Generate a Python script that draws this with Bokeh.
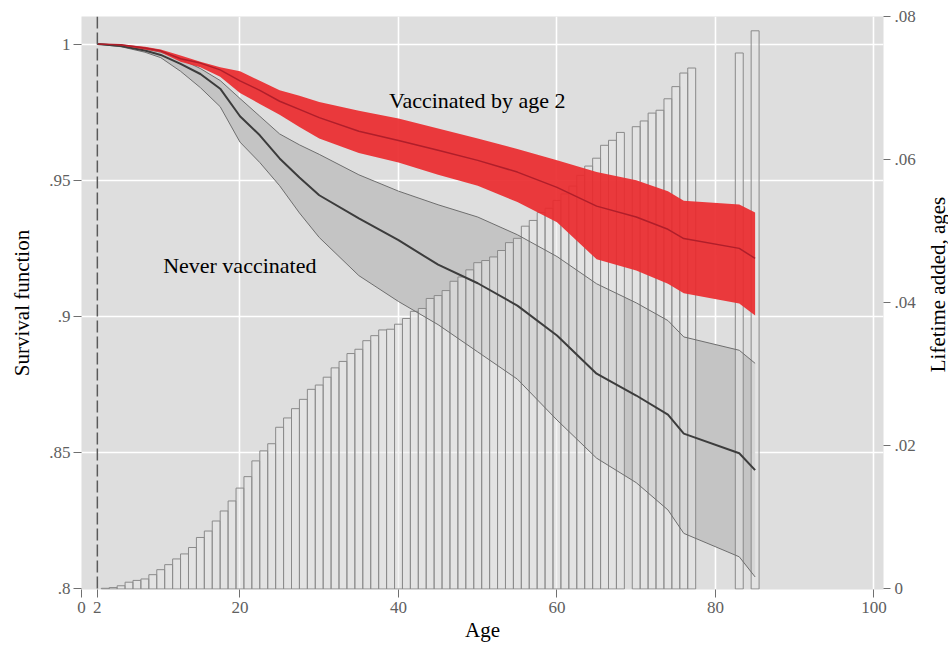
import math
from bokeh.plotting import figure
from bokeh.layouts import row
from bokeh.models import (Range1d, LinearAxis, FixedTicker, CustomJSTickFormatter,
                          Span, Label, ColumnDataSource)
from bokeh.embed import file_html
from bokeh.resources import INLINE

# ---------------- data ----------------
curve_ages = [2, 5, 8, 10, 12.5, 15, 17.5, 20, 22.5, 25, 27.5, 30, 35, 40, 45, 50,
              55, 60, 65, 70, 74, 76, 83, 85]

never_mid = [1.0, 0.9993, 0.9976, 0.996, 0.9927, 0.989, 0.9836, 0.9735, 0.9665,
             0.958, 0.951, 0.9445, 0.936, 0.928, 0.919, 0.9122, 0.904, 0.893, 0.879,
             0.871, 0.864, 0.857, 0.8498, 0.8436]
never_hi = [1.0, 0.9996, 0.9982, 0.997, 0.9945, 0.991, 0.9866, 0.980, 0.9735,
            0.967, 0.963, 0.9595, 0.952, 0.946, 0.941, 0.9365, 0.930, 0.922, 0.912,
            0.905, 0.8985, 0.8925, 0.8876, 0.8828]
never_lo = [1.0, 0.999, 0.997, 0.995, 0.990, 0.984, 0.977, 0.964, 0.9565,
            0.948, 0.938, 0.929, 0.915, 0.9055, 0.897, 0.887, 0.877, 0.862, 0.848,
            0.839, 0.829, 0.8204, 0.8118, 0.8044]

vacc_mid = [1.0, 0.9997, 0.9985, 0.9975, 0.9946, 0.993, 0.9905, 0.9865, 0.983,
            0.979, 0.976, 0.973, 0.968, 0.9646, 0.961, 0.9573, 0.953, 0.9474, 0.9405,
            0.9365, 0.932, 0.9286, 0.925, 0.9213]
vacc_hi = [1.0, 0.9998, 0.999, 0.998, 0.9958, 0.9935, 0.9915, 0.990, 0.9865,
           0.983, 0.981, 0.9787, 0.9755, 0.9727, 0.969, 0.9653, 0.9615, 0.9573, 0.953,
           0.950, 0.946, 0.9425, 0.9411, 0.9382]
vacc_lo = [1.0, 0.9995, 0.998, 0.997, 0.9935, 0.9915, 0.988, 0.982, 0.978,
           0.974, 0.9695, 0.9653, 0.960, 0.9565, 0.952, 0.948, 0.942, 0.9346, 0.921,
           0.9169, 0.912, 0.9085, 0.9048, 0.9004]

bar_ages = [3, 4, 5, 6, 7, 8, 9, 10, 11, 12, 13, 14, 15, 16, 17, 18, 19, 20,
            21, 22, 23, 24, 25, 26, 27, 28, 29, 30, 31, 32, 33, 34, 35, 36, 37,
            38, 39, 40, 41, 42, 43, 44, 45, 46, 47, 48, 49, 50, 51, 52, 53, 54,
            55, 56, 57, 58, 59, 60, 61, 62, 63, 64, 65, 66, 67, 68, 70, 71, 72,
            73, 74, 75, 76, 77, 83, 85]
bar_values = [0.0001, 0.0002, 0.00045, 0.00095, 0.0012, 0.0014, 0.0020, 0.0027,
              0.0034, 0.0042, 0.0049, 0.0058, 0.0072, 0.0081, 0.0095, 0.0109,
              0.0123, 0.0141, 0.0157, 0.0179, 0.0193, 0.0203, 0.0226, 0.0239,
              0.0252, 0.0265, 0.0279, 0.0285, 0.0296, 0.0309, 0.0318, 0.0329,
              0.0335, 0.0347, 0.0354, 0.0362, 0.0363, 0.0370, 0.0378, 0.0388,
              0.0392, 0.0406, 0.0410, 0.0417, 0.0430, 0.0436, 0.0446, 0.0456,
              0.0459, 0.0464, 0.0473, 0.0484, 0.0490, 0.0507, 0.0515, 0.0526,
              0.0532, 0.0543, 0.0552, 0.0563, 0.0578, 0.0591, 0.0602, 0.0620,
              0.0627, 0.0638, 0.0646, 0.0654, 0.0665, 0.0669, 0.0685, 0.0702,
              0.0721, 0.0728, 0.0749, 0.0780]

x_ticks = [0, 2, 20, 40, 60, 80, 100]
left_ticks = [0.8, 0.85, 0.9, 0.95, 1.0]
right_ticks = [0, 0.02, 0.04, 0.06, 0.08]

FONT = "Liberation Serif"
TICK_COLOR = "#606060"

# ---------------- main figure ----------------
p = figure(frame_width=802, frame_height=573,
           x_range=Range1d(0, 101.2), y_range=Range1d(0.7998, 1.0101),
           output_backend="svg", toolbar_location=None,
           min_border_left=81, min_border_top=16, min_border_right=4,
           min_border_bottom=4)
p.extra_y_ranges = {"life": Range1d(-0.00007, 0.08)}

p.background_fill_color = "#dedede"
p.border_fill_color = "white"
p.outline_line_color = None

p.xgrid.ticker = FixedTicker(ticks=[20, 40, 60, 80, 100])
p.ygrid.ticker = FixedTicker(ticks=[0.85, 0.9, 0.95, 1.0])
p.grid.grid_line_color = "white"
p.grid.grid_line_width = 1.6

fmt = CustomJSTickFormatter(code="""
var s = (+tick.toFixed(3)).toString();
if (s.startsWith('0.')) { s = s.slice(1); }
return s;
""")

def style_axis(ax, title):
    ax.axis_label = title
    ax.axis_label_text_font = FONT
    ax.axis_label_text_font_size = "21px"
    ax.axis_label_text_font_style = "normal"
    ax.axis_label_text_color = "black"
    ax.major_label_text_font = FONT
    ax.major_label_text_font_size = "17px"
    ax.major_label_text_color = TICK_COLOR
    ax.axis_line_color = None
    ax.major_tick_line_color = "#707070"
    ax.major_tick_in = 0
    ax.major_tick_out = 8
    ax.minor_tick_line_color = None
    ax.formatter = fmt

xa = p.xaxis[0]
style_axis(xa, "Age")
xa.ticker = FixedTicker(ticks=x_ticks)
xa.major_label_standoff = 4
xa.axis_label_standoff = 2

ya = p.yaxis[0]
style_axis(ya, "Survival function")
ya.ticker = FixedTicker(ticks=left_ticks)
ya.major_label_standoff = 3
ya.major_label_orientation = "horizontal"
ya.axis_label_standoff = 12

ra = LinearAxis(y_range_name="life")
style_axis(ra, None)
ra.ticker = FixedTicker(ticks=right_ticks)
ra.major_tick_out = 7
ra.major_label_standoff = 4
p.add_layout(ra, "right")

# ---------------- glyphs ----------------
src = ColumnDataSource(dict(age=curve_ages, nm=never_mid, nh=never_hi, nl=never_lo,
                            vm=vacc_mid, vh=vacc_hi, vl=vacc_lo))
bars = ColumnDataSource(dict(age=bar_ages, val=bar_values))

p.varea(x="age", y1="nl", y2="nh", source=src, fill_color="#c4c4c4")

p.vbar(x="age", top="val", bottom=0, width=1.0, source=bars, y_range_name="life",
       fill_color="#e8e8e8", fill_alpha=0.5, line_color="#8a8a8a", line_width=1)

p.line(x="age", y="nh", source=src, line_color="#6e6e6e", line_width=1)
p.line(x="age", y="nl", source=src, line_color="#6e6e6e", line_width=1)
p.line(x="age", y="nm", source=src, line_color="#3c3c3c", line_width=2)

p.varea(x="age", y1="vl", y2="vh", source=src, fill_color="#ea2a2e", fill_alpha=0.92)
p.line(x="age", y="vm", source=src, line_color="#b01e2a", line_width=1.5)

p.add_layout(Span(location=2, dimension="height", line_color="#5a5a5a",
                  line_width=1.5, line_dash="12 4"))

p.add_layout(Label(x=38.8, y=0.9793, text="Vaccinated by age 2", text_font=FONT,
                   text_font_size="22px", text_baseline="middle", text_color="black"))
p.add_layout(Label(x=10.3, y=0.9187, text="Never vaccinated", text_font=FONT,
                   text_font_size="22px", text_baseline="middle", text_color="black"))

# ---------------- narrow strip carrying the right-hand axis title ----------------
strip_w, strip_h = 30, 630
t = figure(width=strip_w, height=strip_h, x_range=Range1d(0, strip_w),
           y_range=Range1d(strip_h, 0), x_axis_type=None, y_axis_type=None,
           output_backend="svg", toolbar_location=None,
           min_border_left=0, min_border_right=0, min_border_top=0,
           min_border_bottom=0)
t.outline_line_color = None
t.background_fill_color = "white"
t.border_fill_color = "white"
t.add_layout(Label(x=19, y=302, text="Lifetime added, ages", text_font=FONT,
                   text_font_size="21px", text_align="center", text_baseline="middle",
                   angle=math.pi / 2, text_color="black"))

layout = row(p, t)
open("out.html", "w").write(file_html(layout, INLINE))
